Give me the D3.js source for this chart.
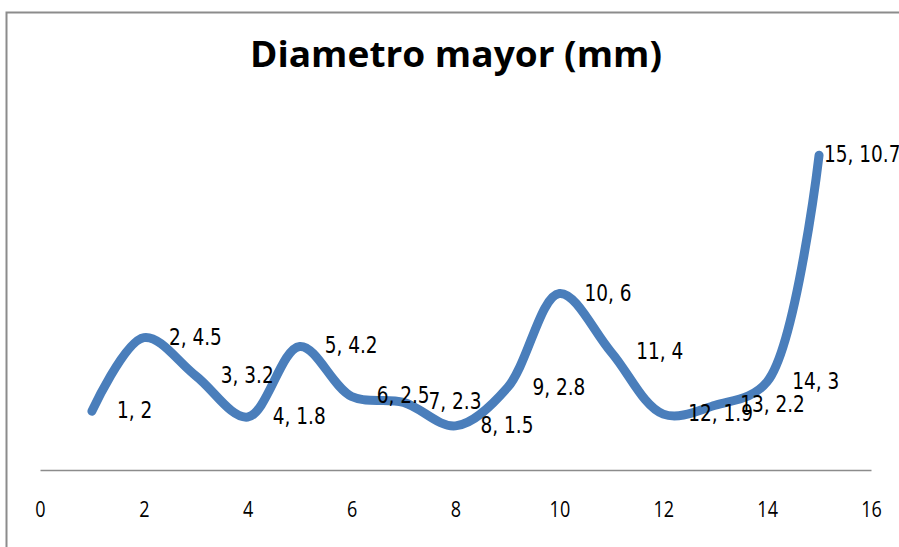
<!DOCTYPE html>
<html>
<head>
<meta charset="utf-8">
<script src="https://cdn.jsdelivr.net/npm/d3@7"></script>
<style>
  html, body { margin: 0; padding: 0; background: #fff; }
  svg { display: block; }
</style>
</head>
<body>
<svg id="chart" width="899" height="547"></svg>
<script>
// Series: sample number vs. major diameter (mm)
const xValues = [1, 2, 3, 4, 5, 6, 7, 8, 9, 10, 11, 12, 13, 14, 15];
const yValues = [2, 4.5, 3.2, 1.8, 4.2, 2.5, 2.3, 1.5, 2.8, 6, 4, 1.9, 2.2, 3, 10.7];
const xTicks = [0, 2, 4, 6, 8, 10, 12, 14, 16];
const title = "Diametro mayor (mm)";

const svg = d3.select("#chart");

// Chart frame (extends past the right and bottom edges)
svg.append("rect")
  .attr("x", 6.5).attr("y", 12.5)
  .attr("width", 1000).attr("height", 1000)
  .attr("fill", "#fff")
  .attr("stroke", "#8c8c8c")
  .attr("stroke-width", 2);

const x = d3.scaleLinear().domain([0, 16]).range([40, 871]);
const y = d3.scaleLinear().domain([0, 12]).range([470, 117]);

// Title (tall, narrow lettering)
svg.append("text")
  .attr("transform", "translate(250,67) scale(1,1.25)")
  .attr("textLength", 412)
  .attr("lengthAdjust", "spacingAndGlyphs")
  .attr("font-family", "'Open Sans', sans-serif")
  .attr("font-weight", "bold")
  .attr("font-size", 28)
  .attr("fill", "#000")
  .text(title);

// Horizontal axis (crosses at y = 0)
const xAxis = d3.axisBottom(x).tickValues(xTicks).tickSize(0).tickPadding(0);
const gx = svg.append("g").attr("transform", `translate(0,${y(0)})`).call(xAxis);
gx.select(".domain").attr("stroke", "#8c8c8c").attr("stroke-width", 1.5);
gx.selectAll(".tick text")
  .attr("font-family", "'Open Sans', sans-serif")
  .attr("font-size", 18)
  .attr("fill", "#000")
  .attr("dy", null)
  .attr("y", 0)
  .attr("transform", "translate(0,47) scale(1,1.25)");

// Smoothed line
const data = xValues.map((v, i) => ({ x: v, y: yValues[i] }));
const line = d3.line()
  .x(d => x(d.x))
  .y(d => y(d.y))
  .curve(d3.curveCatmullRom.alpha(0.5));

svg.append("path")
  .datum(data)
  .attr("d", line)
  .attr("fill", "none")
  .attr("stroke", "#4a7ebb")
  .attr("stroke-width", 9)
  .attr("stroke-linecap", "round")
  .attr("stroke-linejoin", "round");

// Data labels "x, y" to the right of each point
svg.append("g")
  .selectAll("text")
  .data(data)
  .join("text")
  .attr("transform", d => {
    const lx = d.x === 15 ? x(d.x) + 5 : x(d.x) + 25;
    return `translate(${lx},${y(d.y) + 7}) scale(1,1.2)`;
  })
  .attr("font-family", "'DejaVu Sans', sans-serif")
  .attr("font-size", 18.5)
  .attr("fill", "#000")
  .text(d => `${d.x}, ${d.y}`);
</script>
</body>
</html>
